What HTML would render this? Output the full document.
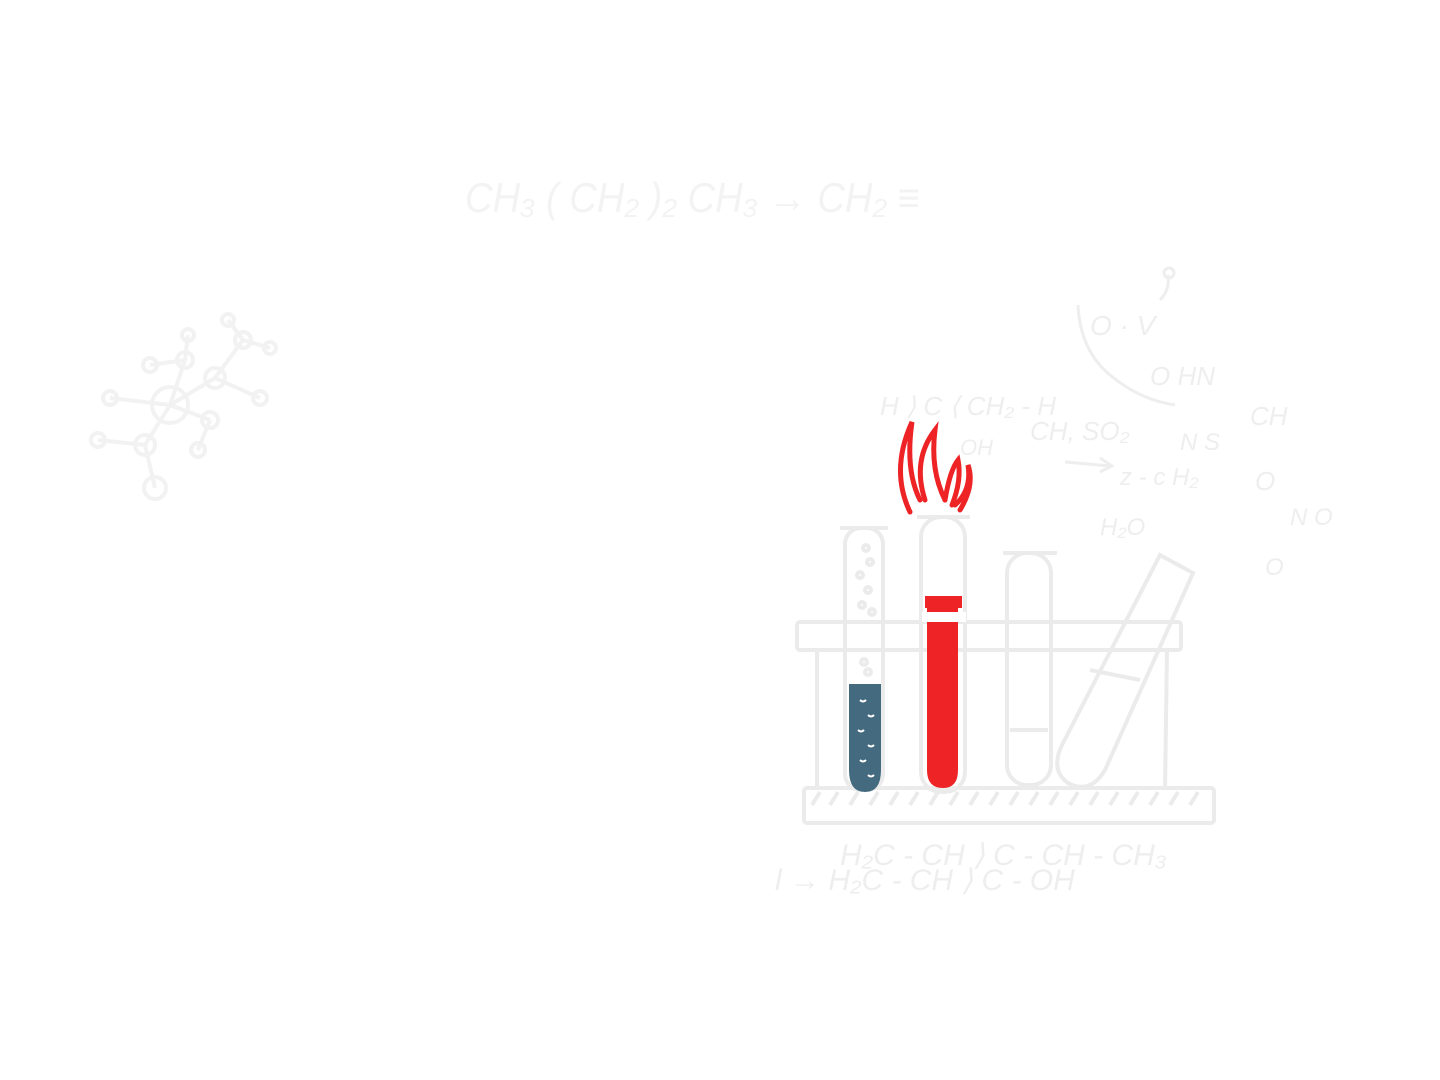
<!DOCTYPE html>
<html><head><meta charset="utf-8"><style>
html,body{margin:0;padding:0;background:#fff;}
svg{display:block}
text{font-family:"Liberation Sans",sans-serif;fill:#eeeeee;}
</style></head><body>
<svg width="1440" height="1080" viewBox="0 0 1440 1080" xmlns="http://www.w3.org/2000/svg">
<!-- top formula -->
<text x="465" y="212" font-size="42" textLength="455" lengthAdjust="spacingAndGlyphs" style="fill:#f3f3f3" font-style="italic">CH₃ ( CH₂ )₂ CH₃ → CH₂ ≡</text>

<!-- molecule -->
<g stroke="#f2f2f2" stroke-width="4" fill="none">
<line x1="170" y1="405" x2="110" y2="398"/><line x1="170" y1="405" x2="145" y2="445"/>
<line x1="170" y1="405" x2="215" y2="378"/><line x1="170" y1="405" x2="185" y2="360"/>
<line x1="170" y1="405" x2="210" y2="420"/><line x1="145" y1="445" x2="98" y2="440"/>
<line x1="145" y1="445" x2="155" y2="488"/><line x1="215" y1="378" x2="260" y2="398"/>
<line x1="215" y1="378" x2="243" y2="340"/><line x1="243" y1="340" x2="270" y2="348"/>
<line x1="185" y1="360" x2="188" y2="335"/><line x1="210" y1="420" x2="198" y2="450"/>
<line x1="185" y1="360" x2="150" y2="365"/><line x1="243" y1="340" x2="228" y2="320"/>
<circle cx="170" cy="405" r="18"/><circle cx="145" cy="445" r="10"/><circle cx="215" cy="378" r="10"/>
<circle cx="185" cy="360" r="8"/><circle cx="210" cy="420" r="8"/><circle cx="110" cy="398" r="7"/>
<circle cx="98" cy="440" r="7"/><circle cx="155" cy="488" r="11"/><circle cx="260" cy="398" r="7"/>
<circle cx="243" cy="340" r="8"/><circle cx="270" cy="348" r="6"/><circle cx="188" cy="335" r="6"/>
<circle cx="198" cy="450" r="7"/><circle cx="150" cy="365" r="7"/><circle cx="228" cy="320" r="6"/>
</g>

<!-- right formulas -->
<g font-style="italic">
<text x="880" y="415" font-size="26">H ⟩ C ⟨  CH₂ - H</text>
<text x="960" y="455" font-size="22">OH</text>
<text x="1030" y="440" font-size="26">CH, SO₂</text>
<text x="1090" y="335" font-size="28">O · V</text>
<text x="1150" y="385" font-size="26">O   HN</text>
<text x="1250" y="425" font-size="26">CH</text>
<text x="1180" y="450" font-size="24">N  S</text>
<text x="1120" y="485" font-size="24">z - c   H₂</text>
<text x="1100" y="535" font-size="24">H₂O</text>
<text x="1255" y="490" font-size="26">O</text>
<text x="1290" y="525" font-size="24">N    O</text>
<text x="1265" y="575" font-size="24">O</text>
<text x="840" y="865" font-size="30">H₂C - CH ⟩ C - CH - CH₃</text>
<text x="775" y="890" font-size="30">l → H₂C - CH ⟩ C - OH</text>
</g>
<g stroke="#eeeeee" stroke-width="3" fill="none">
<line x1="1065" y1="462" x2="1110" y2="466"/><polyline points="1100,458 1112,466 1100,472"/>
<path d="M1160 300 Q1170 290 1168 275"/><circle cx="1169" cy="273" r="5"/>
<path d="M1078 305 Q1080 350 1110 375 Q1140 400 1175 405"/>
</g>

<!-- tubes (grey) -->
<g stroke="#ebebeb" stroke-width="4" fill="none">
<rect x="845" y="528" width="38" height="262" rx="16"/>
<line x1="840" y1="528" x2="888" y2="528"/>
<rect x="1007" y="553" width="44" height="232" rx="20"/>
<line x1="1003" y1="553" x2="1057" y2="553"/>
<path d="M1160 555 L1193 573 L1105 770 Q1090 795 1068 783 Q1050 770 1062 745 Z"/>
<line x1="1010" y1="730" x2="1048" y2="730"/>
<line x1="1090" y1="670" x2="1140" y2="680"/>
<rect x="921" y="517" width="44" height="275" rx="20"/>
<line x1="917" y1="517" x2="970" y2="517"/>
<circle cx="866" cy="548" r="3"/><circle cx="870" cy="562" r="3"/><circle cx="860" cy="575" r="3"/>
<circle cx="868" cy="590" r="3"/><circle cx="862" cy="605" r="3"/><circle cx="872" cy="612" r="3"/>
<circle cx="864" cy="662" r="3"/><circle cx="868" cy="672" r="3"/>
<!-- rack -->
<rect x="797" y="622" width="384" height="28" rx="3"/>
<line x1="817" y1="650" x2="817" y2="790"/><line x1="1167" y1="650" x2="1165" y2="790"/>
<rect x="804" y="788" width="410" height="35" rx="3"/>
<path d="M812 805 L820 792 M830 805 L838 792 M850 805 L858 792 M870 805 L878 792 M890 805 L898 792 M910 805 L918 792 M930 805 L938 792 M950 805 L958 792 M970 805 L978 792 M990 805 L998 792 M1010 805 L1018 792 M1030 805 L1038 792 M1050 805 L1058 792 M1070 805 L1078 792 M1090 805 L1098 792 M1110 805 L1118 792 M1130 805 L1138 792 M1150 805 L1158 792 M1170 805 L1178 792 M1190 805 L1198 792"/>
</g>

<!-- blue liquid -->
<path d="M849 684 L881 684 L881 770 Q881 792 865 792 Q849 792 849 770 Z" fill="#446a80"/>
<g stroke="#fff" stroke-width="2" fill="none">
<path d="M860 700 q3 3 6 0"/><path d="M868 715 q3 3 6 0"/><path d="M858 730 q3 3 6 0"/>
<path d="M868 745 q3 3 6 0"/><path d="M860 760 q3 3 6 0"/><path d="M868 775 q3 3 6 0"/>
</g>

<!-- red liquid -->
<path d="M925 596 L962 596 L962 608 L958 608 L958 770 Q958 788 943 788 Q927 788 927 770 L927 608 L925 608 Z" fill="#ee2326"/>
<rect x="922" y="612" width="44" height="10" fill="#fff"/>

<!-- flame -->
<g stroke="#ee2326" stroke-width="5" fill="none" stroke-linecap="round">
<path d="M910 512 Q890 470 912 422 Q905 470 920 500"/>
<path d="M925 500 Q912 460 935 430 Q930 470 945 500"/>
<path d="M945 500 Q950 470 958 460 Q962 480 952 505"/>
<path d="M955 505 Q972 490 968 465 Q975 485 960 510"/>
</g>
</svg>
</body></html>
